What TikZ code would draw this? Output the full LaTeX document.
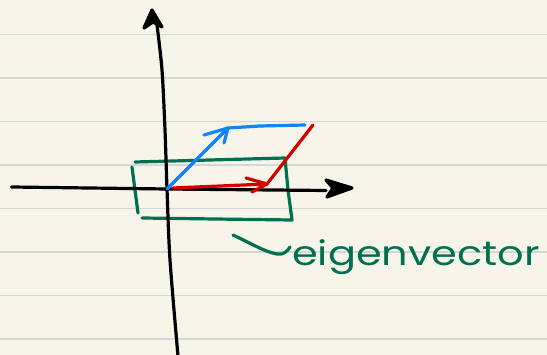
\documentclass[tikz,border=0pt]{standalone}
\usepackage{fontspec}
\setmainfont{Poppins}
\definecolor{paper}{RGB}{247,245,234}
\definecolor{rule}{RGB}{214,214,214}
\definecolor{inkblue}{RGB}{20,130,250}
\definecolor{inkred}{RGB}{212,0,0}
\definecolor{inkgreen}{RGB}{0,112,80}
\tikzset{
  ink/.style={line width=3.2pt, line cap=round, line join=round},
  ruled/.style={draw=rule, line width=1.6pt}
}
\begin{document}
\begin{tikzpicture}[x=1pt,y=-1pt]
\fill[paper] (0,0) rectangle (547,355);
\useasboundingbox (0,0) rectangle (547,355);
% ruled lines
\foreach \yy in {34.5,78,121.5,165,208.5,252,295.5,339}
  \draw[ruled] (0,\yy) -- (547,\yy);
% named points
\coordinate (O) at (167,189);
\coordinate (B) at (228,128);
\coordinate (R) at (267,184);
\coordinate (BR) at (305,125);
\coordinate (RR) at (313,125);
% green box
\draw[ink, draw=inkgreen] (135,162) -- (210,160) -- (285,158) -- (288,190) -- (292,220) -- (215,219) -- (142,218);
\draw[ink, draw=inkgreen] (132,167) -- (135,190) -- (138,213);
% axes
\draw[ink] (11.5,187) -- (O) -- (326,190.5);
\draw[ink, fill=black] (326,180) -- (352,188) -- (327,197) -- (333,188) -- cycle;
\draw[ink] plot[smooth] coordinates {(157,25) (162,70) (165,130) (O) (170,260) (178,356)};
\draw[ink, fill=black] (144,28) -- (152,10) -- (162,27) -- (153,22) -- cycle;
% blue vector and translated red side
\draw[ink, draw=inkblue] (O) -- (B) -- (260,126) -- (BR);
\draw[ink, draw=inkblue] (204,135) -- (B) -- (224,143);
% red vector and sheared side
\draw[ink, draw=inkred] (173,188) -- (R);
\draw[ink, draw=inkred] (246,178) -- (R) -- (252,192);
\draw[ink, draw=inkred] (R) -- (RR);
% label hook
\draw[ink, draw=inkgreen] (233,235) .. controls (250,243) and (265,252) .. (277,254) .. controls (283,255) and (287,252) .. (290,247);
\node[anchor=base west, inner sep=0pt, text=inkgreen, font=\fontsize{34}{38}\selectfont] (lbl) at (292,266) {\scalebox{1.22}[1]{eigenvector}};
\end{tikzpicture}
\end{document}
